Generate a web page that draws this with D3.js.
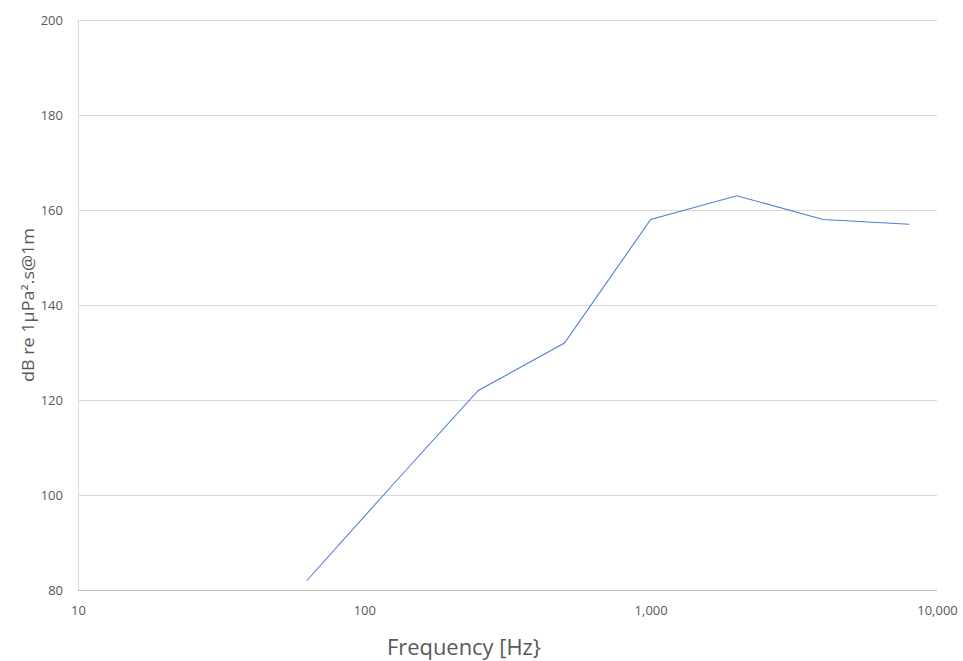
<!DOCTYPE html>
<html>
<head>
<meta charset="utf-8">
<script src="https://cdn.jsdelivr.net/npm/d3@7"></script>
<style>
  html, body { margin: 0; padding: 0; background: #fff; }
  svg text { font-family: "Open Sans", "Noto Sans", sans-serif; fill: #595959; }
</style>
</head>
<body>
<svg id="chart" width="963" height="661"></svg>
<script>
// Octave-band frequencies (Hz) and levels (dB re 1µPa²·s @ 1m)
const frequencies = [63, 125, 250, 500, 1000, 2000, 4000, 8000];
const levels = [82, 102, 122, 132, 158, 163, 158, 157];

const xTicks = [10, 100, 1000, 10000];
const yTicks = [80, 100, 120, 140, 160, 180, 200];

const xTitle = "Frequency [Hz}";
const yTitle = "dB re 1µPa².s@1m";

const svg = d3.select("#chart");
const plot = { left: 78, right: 937, top: 20, bottom: 590 };

const x = d3.scaleLog().domain([10, 10000]).range([plot.left, plot.right]);
const y = d3.scaleLinear().domain([80, 200]).range([plot.bottom, plot.top]);

// Horizontal gridlines
svg.append("g")
  .selectAll("line")
  .data(yTicks.filter(d => d !== 80))
  .join("line")
  .attr("x1", plot.left).attr("x2", plot.right)
  .attr("y1", d => y(d)).attr("y2", d => y(d))
  .attr("stroke", "#d9d9d9").attr("stroke-width", 1)
  .attr("shape-rendering", "crispEdges");

// Axis lines
svg.append("line")
  .attr("x1", plot.left).attr("x2", plot.left)
  .attr("y1", plot.top).attr("y2", plot.bottom)
  .attr("stroke", "#d9d9d9").attr("shape-rendering", "crispEdges");
svg.append("line")
  .attr("x1", plot.left).attr("x2", plot.right)
  .attr("y1", plot.bottom).attr("y2", plot.bottom)
  .attr("stroke", "#bfbfbf").attr("shape-rendering", "crispEdges");

// Y tick labels
const yAxis = d3.axisLeft(y).tickValues(yTicks).tickSize(0).tickPadding(15);
const gy = svg.append("g").attr("transform", `translate(${plot.left},0)`).call(yAxis);
gy.select(".domain").remove();
gy.selectAll("text").attr("font-size", 13).style("font-family", '"Open Sans", sans-serif').attr("fill", "#595959");

// X tick labels
const fmt = d3.format(",");
const xAxis = d3.axisBottom(x).tickValues(xTicks).tickFormat(d => fmt(d)).tickSize(0).tickPadding(16);
const gx = svg.append("g").attr("transform", `translate(0,${plot.bottom})`).call(xAxis);
gx.select(".domain").remove();
gx.selectAll("text").attr("font-size", 13).style("font-family", '"Open Sans", sans-serif').attr("fill", "#595959");

// Data line
const line = d3.line().x(d => x(d[0])).y(d => y(d[1]));
svg.append("path")
  .datum(frequencies.map((f, i) => [f, levels[i]]))
  .attr("d", line)
  .attr("fill", "none")
  .attr("stroke", "#4f7fd0")
  .attr("stroke-width", 1.1);

// Axis titles
svg.append("text")
  .attr("x", 464)
  .attr("y", 655)
  .attr("text-anchor", "middle")
  .attr("font-size", 21)
  .attr("textLength", 154)
  .attr("lengthAdjust", "spacingAndGlyphs")
  .text(xTitle);

svg.append("text")
  .attr("transform", `translate(34,305) rotate(-90)`)
  .attr("text-anchor", "middle")
  .attr("font-size", 15.5)
  .attr("textLength", 154)
  .attr("lengthAdjust", "spacingAndGlyphs")
  .text(yTitle);
</script>
</body>
</html>
